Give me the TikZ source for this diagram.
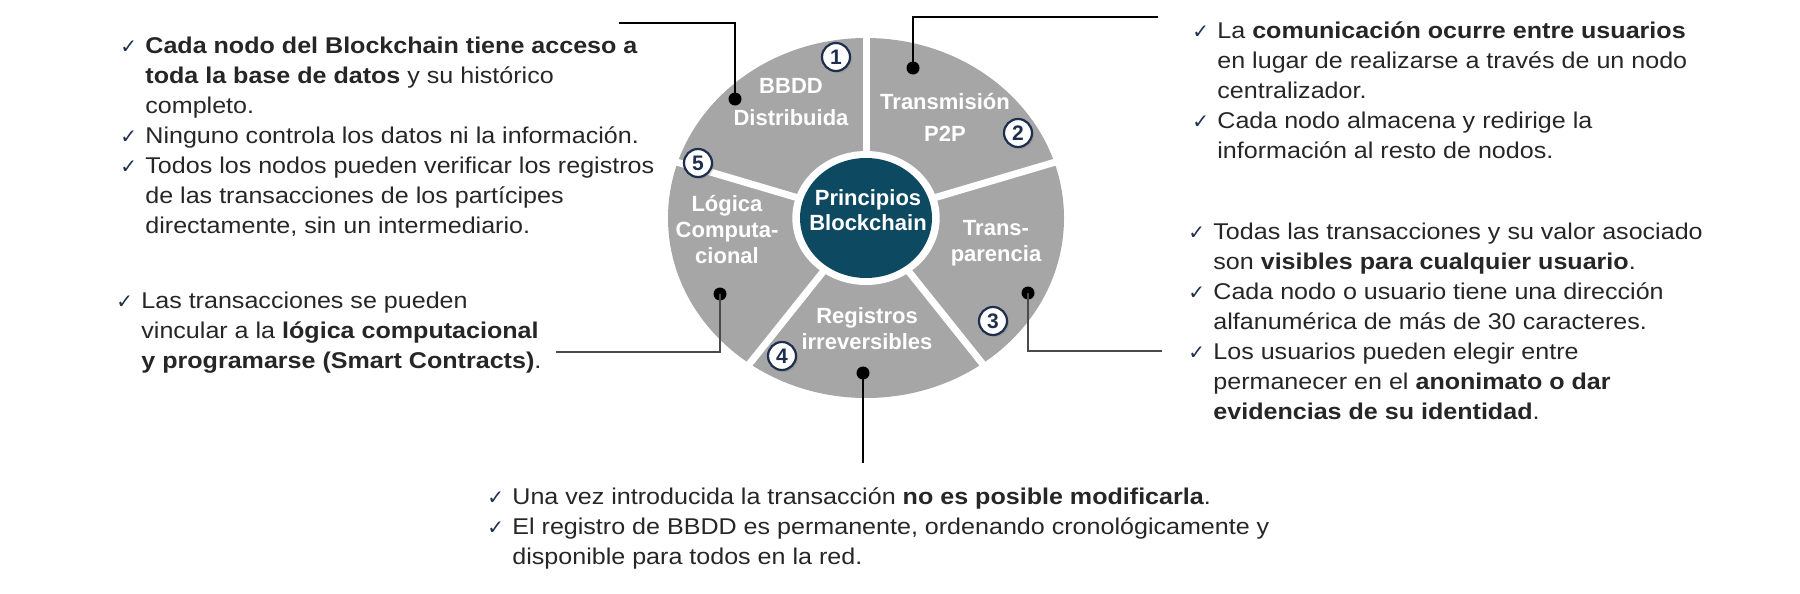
\documentclass[tikz,border=0pt]{standalone}
\usepackage{fontspec}
\setmainfont{Liberation Sans}[FakeStretch=1.1]
\newfontfamily\wheelfont{Liberation Sans}
\newfontfamily\checkfont{DejaVu Sans}
\usepackage{tikz}
\usetikzlibrary{shadows}

\definecolor{pieGray}{HTML}{A6A6A6}
\definecolor{coreBlue}{HTML}{0D4A62}
\definecolor{badgeBlue}{HTML}{1F2E4F}
\definecolor{bodyText}{HTML}{262626}
\definecolor{leaderGray}{HTML}{4A4A4A}

\newcommand{\chkmark}{\strut\makebox[12.5pt][l]{\checkfont\fontsize{10}{10}\selectfont\textcolor{badgeBlue}{✓}}}
\newcommand{\chkgap}{\hspace*{12.5pt}}

\tikzset{
  slice/.style={text=white, font=\wheelfont\fontsize{11}{13}\selectfont\bfseries, align=center},
  badge/.style={circle, draw=badgeBlue, line width=1.1pt, fill=white, minimum size=14pt, inner sep=0pt,
    text=badgeBlue, font=\wheelfont\fontsize{10.5}{10.5}\selectfont\bfseries,
    drop shadow={opacity=0.3, shadow xshift=1pt, shadow yshift=-1pt}},
  blackdot/.style={circle, fill=black, minimum size=6.5pt, inner sep=0pt},
  notes/.style={anchor=north west, inner sep=0pt, align=left, text=bodyText, font=\fontsize{11.4}{15}\selectfont},
  leader/.style={line width=1.4pt},
}

\begin{document}
\begin{tikzpicture}[x=0.5pt, y=0.5pt]
   \useasboundingbox (0,0) rectangle (1800,-594);

   % the wheel
   \begin{scope}[shift={(866,-218)}, xscale=1.1]
     \fill[pieGray] (0,0) circle (180);
     \foreach \a in {90,18,-54,-126,162}
       \draw[white, line width=3.5pt] (0,0) -- (\a:190);
     \fill[white] (0,0) circle (67);
     \fill[coreBlue] (0,0) circle (60);
   \end{scope}

   \draw (868,-210) node[slice, font=\wheelfont\fontsize{11}{12.5}\selectfont\bfseries] (core) {Principios\\Blockchain};
     \draw (791,-102) node[slice] (bbdd) {BBDD\\[3pt]Distribuida};
     \draw (945,-117) node[slice] (p2p) {Transmisión\\[3pt]P2P};
     \draw (996,-243) node[slice] (transp) {Trans-\\parencia};
     \draw (867,-329) node[slice] (registros) {Registros\\irreversibles};
     \draw (727,-230) node[slice] (logica) {Lógica\\Computa-\\cional};

   \draw (836,-57) node[badge] (n1) {1};
   \draw (1018,-133) node[badge] (n2) {2};
   \draw (993,-321) node[badge] (n3) {3};
   \draw (782,-356) node[badge] (n4) {4};
   \draw (698,-163) node[badge] (n5) {5};

   \draw (735,-99) node[blackdot] (bbddDot) {};
   \draw (913,-68) node[blackdot] (p2pDot) {};
   \draw (1028,-293) node[blackdot] (transpDot) {};
   \draw (863,-373) node[blackdot] (regDot) {};
   \draw (720,-294) node[blackdot] (logDot) {};

   \coordinate (bbddEnd) at (619,-23);
   \coordinate (p2pEnd) at (1158,-17);
   \coordinate (transpEnd) at (1162,-351);
   \coordinate (logEnd) at (556,-352);
   \coordinate (regEnd) at (863,-463);

   \draw[leader] (bbddDot.center) |- (bbddEnd);
   \draw[leader] (p2pDot.center) |- (p2pEnd);
   \draw[leader, leaderGray] (transpDot.center) |- (transpEnd);
   \draw[leader, leaderGray] (logDot.center) |- (logEnd);
   \draw[leader] (regDot.center) -- (regEnd);

   % the notes
   \draw (120,-32) node[notes] (bbddNotes) {\chkmark\textbf{Cada nodo del Blockchain tiene acceso a}\\
     \chkgap\textbf{toda la base de datos} y su histórico\\
     \chkgap completo.\\
     \chkmark Ninguno controla los datos ni la información.\\
     \chkmark Todos los nodos pueden verificar los registros\\
     \chkgap de las transacciones de los partícipes\\
     \chkgap directamente, sin un intermediario.};
   \draw (1192,-17) node[notes] (p2pNotes) {\chkmark La \textbf{comunicación ocurre entre usuarios}\\
     \chkgap en lugar de realizarse a través de un nodo\\
     \chkgap centralizador.\\
     \chkmark Cada nodo almacena y redirige la\\
     \chkgap información al resto de nodos.};
   \draw (1188,-218) node[notes] (transpNotes) {\chkmark Todas las transacciones y su valor asociado\\
     \chkgap son \textbf{visibles para cualquier usuario}.\\
     \chkmark Cada nodo o usuario tiene una dirección\\
     \chkgap alfanumérica de más de 30 caracteres.\\
     \chkmark Los usuarios pueden elegir entre\\
     \chkgap permanecer en el \textbf{anonimato o dar}\\
     \chkgap\textbf{evidencias de su identidad}.};
   \draw (116,-287) node[notes] (logNotes) {\chkmark Las transacciones se pueden\\
     \chkgap vincular a la \textbf{lógica computacional}\\
     \chkgap\textbf{y programarse (Smart Contracts)}.};
   \draw (487,-483) node[notes] (regNotes) {\chkmark Una vez introducida la transacción \textbf{no es posible modificarla}.\\
     \chkmark El registro de BBDD es permanente, ordenando cronológicamente y\\
     \chkgap disponible para todos en la red.};
\end{tikzpicture}
\end{document}
